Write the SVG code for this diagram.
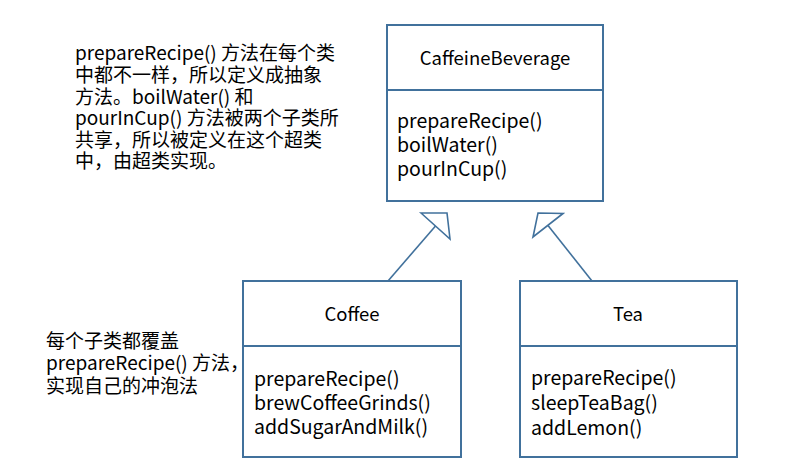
<svg xmlns="http://www.w3.org/2000/svg" width="800" height="469" viewBox="0 0 800 469">
<style>
.box{fill:#fff;stroke:#41719c;stroke-width:2}
.div{stroke:#41719c;stroke-width:2;fill:none}
.name{font-family:"Noto Sans CJK SC","Noto Sans",sans-serif;font-size:18.5px;fill:#000;text-anchor:middle}
.m{font-family:"Noto Sans CJK SC","Noto Sans",sans-serif;font-size:19.5px;fill:#000}
.note{font-family:"Noto Sans CJK SC",sans-serif;font-size:19px;fill:#000}
.conn{stroke:#41719c;stroke-width:1.6;fill:none}
.tri{stroke:#41719c;stroke-width:1.6;fill:#fff}
</style>
<rect width="800" height="469" fill="#fff"/>
<g id="note-top">
<text class="note" x="75" y="60">prepareRecipe() 方法在每个类</text>
<text class="note" x="75" y="82">中都不一样，所以定义成抽象</text>
<text class="note" x="75" y="104">方法。boilWater() 和</text>
<text class="note" x="75" y="125">pourInCup() 方法被两个子类所</text>
<text class="note" x="75" y="147">共享，所以被定义在这个超类</text>
<text class="note" x="75" y="168">中，由超类实现。</text>
</g>
<g id="note-bottom">
<text class="note" x="46" y="348">每个子类都覆盖</text>
<text class="note" x="46" y="370">prepareRecipe() 方法，</text>
<text class="note" x="46" y="393">实现自己的冲泡法</text>
</g>
<g id="CaffeineBeverage">
<rect class="box" x="387" y="25" width="216" height="176"/>
<line class="div" x1="387" y1="90" x2="603" y2="90"/>
<text class="name" x="495" y="65">CaffeineBeverage</text>
<text class="m" x="397" y="128">prepareRecipe()</text>
<text class="m" x="397" y="152">boilWater()</text>
<text class="m" x="397" y="176">pourInCup()</text>
</g>
<g id="Coffee">
<rect class="box" x="243" y="281" width="218" height="176"/>
<line class="div" x1="243" y1="346" x2="461" y2="346"/>
<text class="name" x="352" y="321">Coffee</text>
<text class="m" x="254" y="386">prepareRecipe()</text>
<text class="m" x="254" y="410">brewCoffeeGrinds()</text>
<text class="m" x="254" y="434">addSugarAndMilk()</text>
</g>
<g id="Tea">
<rect class="box" x="520" y="281" width="217" height="176"/>
<line class="div" x1="520" y1="346" x2="737" y2="346"/>
<text class="name" x="628" y="321">Tea</text>
<text class="m" x="531" y="385">prepareRecipe()</text>
<text class="m" x="531" y="410">sleepTeaBag()</text>
<text class="m" x="531" y="435">addLemon()</text>
</g>
<g id="connectors">
<line class="conn" x1="388" y1="281" x2="435.5" y2="226"/>
<polygon class="tri" points="421,213 450,239 447,213"/>
<line class="conn" x1="592" y1="281" x2="548" y2="225.5"/>
<polygon class="tri" points="563,213.5 533,237 538,213"/>
</g>
</svg>
